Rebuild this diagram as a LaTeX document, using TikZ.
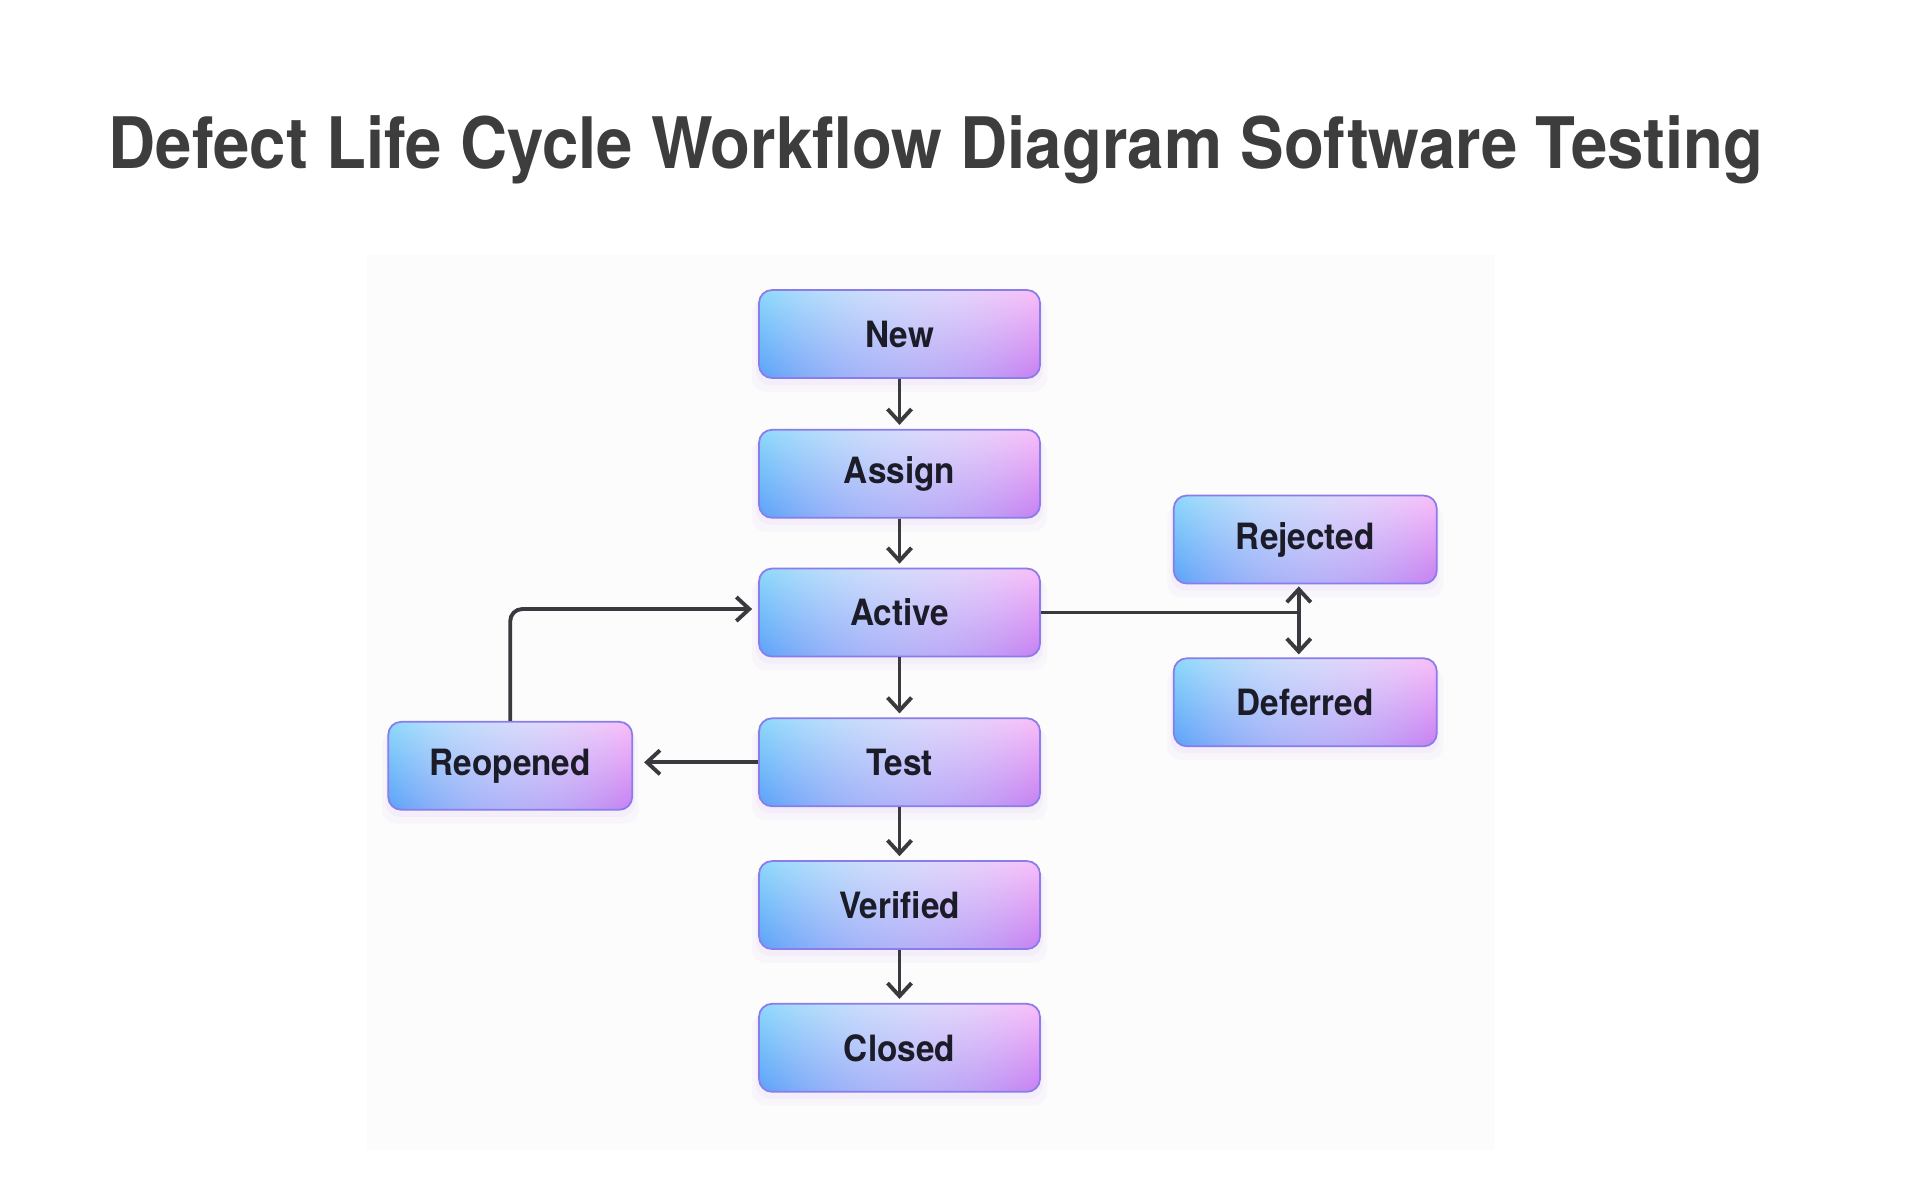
\documentclass[tikz,border=0pt]{standalone}
\usepackage{fontspec}
\setmainfont{TeX Gyre Heros}
\newfontfamily\narrowfont[FakeStretch=0.92]{TeX Gyre Heros}
\usepackage{xcolor}
\usepackage{tikz}
\usetikzlibrary{positioning,arrows.meta,calc,shadows}
\definecolor{dlink}{HTML}{3A3A3E}
\definecolor{dtext}{HTML}{1C1C28}
\definecolor{dtitle}{HTML}{3D3D3D}
\definecolor{dedge}{HTML}{8A7CEB}
\definecolor{dglow}{HTML}{C9A6F4}
\definecolor{dpanel}{HTML}{FCFCFC}

% corner blend: cyan top left, blue bottom left, pink top right, violet bottom right
\pgfdeclarefunctionalshading{cardshade}{\pgfpoint{0bp}{0bp}}{\pgfpoint{100bp}{100bp}}{}{
  25 sub 50 div exch 25 sub 50 div exch
  2 copy mul
  2 index dup 1 exch sub mul 1.2 mul 1 exch sub
  3 index 0.427 mul 3 index 0.196 mul add 2 index 0.004 mul add 0.353 add
  1 exch sub 1 index mul 1 exch sub
  4 index -0.137 mul 4 index 0.216 mul add 3 index 0.027 mul add 0.635 add
  1 exch sub 2 index mul 1 exch sub
  5 index -0.028 mul 5 index 0.011 mul add 4 index 0.020 mul add 0.973 add
  1 exch sub 3 index mul 1 exch sub
  7 3 roll pop pop pop pop
}

\begin{document}
\begin{tikzpicture}[
   node distance=5mm and 12mm,
   state/.style={draw=dedge, line width=0.5pt, rounded corners=1.3mm,
                 shading=cardshade, minimum height=8.8mm, minimum width=28.1mm,
                 inner sep=0pt, align=center, text=dtext,
                 font=\narrowfont\fontsize{10.3}{12}\selectfont\bfseries,
                 drop shadow={shadow xshift=0mm, shadow yshift=-0.6mm,
                              shadow scale=1.02, fill=dglow, opacity=0.10},
                 drop shadow={shadow xshift=0mm, shadow yshift=-1.1mm,
                              shadow scale=1.05, fill=dglow, opacity=0.06}},
   side/.style={minimum width=26.3mm},
   title/.style={text=dtitle, inner sep=0pt,
                 font=\narrowfont\fontsize{20.2}{24}\selectfont\bfseries},
   flow/.style={->, draw=dlink, line width=1.1pt, shorten >=0.4mm},
   link/.style={draw=dlink, line width=1.1pt},
   >={Straight Barb[length=1.3mm, width=2.4mm]}]
  \useasboundingbox (0,0) rectangle (19.2,-12);
  \fill[dpanel] (3.67,-2.55) rectangle (14.95,-11.50);

  \node[title, anchor=base west] (head) at (1.08,-1.68)
    {Defect Life Cycle Workflow Diagram Software Testing};

  % main column
  \node[state] (new) at (8.995,-3.34) {New};
  \node[state, below=5.0mm of new] (assign) {Assign};
  \node[state, below=4.9mm of assign] (active) {Active};
  \node[state, below=6.0mm of active] (test) {Test};
  \node[state, below=5.3mm of test] (verified) {Verified};
  \node[state, below=5.3mm of verified] (closed) {Closed};

  % side states
  \node[state, minimum width=24.4mm, left=12.5mm of test, yshift=-0.35mm] (reopened) {Reopened};
  \node[state, side, right=13.2mm of active, yshift=7.3mm] (rejected) {Rejected};
  \node[state, side, below=7.3mm of rejected] (deferred) {Deferred};

  \draw[flow] (new) -- (assign);
  \draw[flow] (assign) -- (active);
  \draw[flow] (active) -- (test);
  \draw[flow] (test) -- (verified);
  \draw[flow] (verified) -- (closed);
  \draw[flow, shorten >=1.1mm] (test) -- (test -| reopened.east);
  \draw[flow, rounded corners=1.2mm, shorten >=0.6mm]
    (reopened.north) |- ([yshift=0.35mm]active.west);

  \coordinate (rtap) at ([xshift=-0.65mm]rejected.south);
  \coordinate (dtap) at ([xshift=-0.65mm]deferred.north);
  \coordinate (split) at (active.east -| rtap);
  \draw[link] (active.east) -- (split);
  \draw[flow, <->, shorten <=0.2mm, shorten >=0.3mm] (rtap) -- (dtap);
\end{tikzpicture}
\end{document}
